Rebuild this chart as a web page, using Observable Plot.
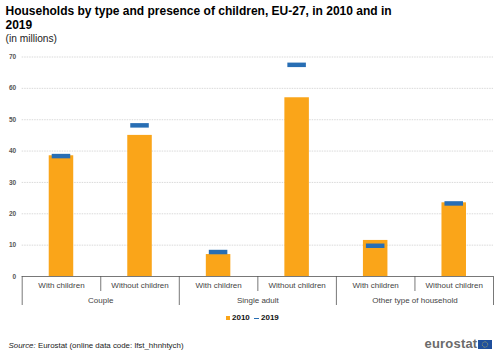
<!DOCTYPE html>
<html>
<head>
<meta charset="utf-8">
<script src="https://cdn.jsdelivr.net/npm/d3@7"></script>
<script src="https://cdn.jsdelivr.net/npm/@observablehq/plot@0.6"></script>
<style>
html,body{margin:0;padding:0;background:#fff;width:500px;height:354px;overflow:hidden;font-family:"Liberation Sans",Arial,sans-serif}
#page{position:relative;width:500px;height:354px}
#head{position:absolute;left:5.5px;top:4px;width:490px}
#title{font-size:12px;font-weight:bold;line-height:14px;color:#000}
#sub{font-size:10.2px;line-height:13px;color:#222}
#chart{position:absolute;left:0;top:45px}
#chart svg{display:block}
#legend{position:absolute;left:226px;top:313px;font-size:8px;font-weight:bold;color:#111;line-height:10px;height:10px;white-space:nowrap}
#legend i{display:inline-block;position:absolute}
#legend span{position:absolute;top:0}
#source{position:absolute;left:8.5px;top:341px;font-size:7.9px;line-height:10px;color:#222;white-space:nowrap}
#logo{position:absolute;left:424.5px;top:336px;font-size:13px;font-weight:bold;line-height:16px;color:#6b6b6b;letter-spacing:.2px}
#flag{position:absolute;left:478px;top:340px}
</style>
</head>
<body>
<div id="page">
  <div id="head">
    <div id="title">Households by type and presence of children, EU-27, in 2010 and in<br>2019</div>
    <div id="sub">(in millions)</div>
  </div>
  <div id="chart"></div>
  <div id="legend">
    <i style="left:0;top:3px;width:4px;height:4px;background:#FAA519"></i><span style="left:6px">2010</span>
    <i style="left:28px;top:4.5px;width:5px;height:1.6px;background:#286EB4"></i><span style="left:35px">2019</span>
  </div>
  <div id="source"><em>Source:</em> Eurostat (online data code: lfst_hhnhtych)</div>
  <div id="logo">eurostat</div>
  <svg id="flag" width="14" height="9" viewBox="0 0 14 9"><rect width="14" height="9" fill="#1f4f9c"/><circle cx="7" cy="4.5" r="2.7" fill="none" stroke="#e8d44a" stroke-width=".7" stroke-dasharray=".7 .7"/></svg>
</div>
<script>
const categories = ["With children", "Without children", "With children", "Without children", "With children", "Without children"];
const groups = ["Couple", "Single adult", "Other type of household"];
const values2010 = [38.5, 45, 7, 57, 11.5, 23.5];
const values2019 = [38.4, 48.2, 7.8, 67.5, 9.8, 23.3];
const yTicks = [0, 10, 20, 30, 40, 50, 60, 70];

const idx = categories.map((_, i) => i);
const barHalf = 0.156, dashHalf = 0.118;
const catEdges = d3.range(categories.length + 1);
const groupEdges = d3.range(0, categories.length + 1, 2);
const catCenters = idx.map(i => i + 0.5);
const groupCenters = groups.map((_, g) => g * 2 + 1);
const axisColor = "#555", textColor = "#444";

const plot = Plot.plot({
  width: 500, height: 261,
  marginLeft: 21.7, marginRight: 7, marginTop: 11.5, marginBottom: 30,
  style: {fontFamily: '"Liberation Sans",Arial,sans-serif', background: "transparent"},
  x: {type: "linear", domain: [0, categories.length], axis: null},
  y: {domain: [0, 70], axis: null},
  marks: [
    Plot.gridY(yTicks.filter(d => d > 0), {stroke: "#cfcfcf", strokeOpacity: 1, strokeWidth: 0.8, strokeDasharray: "1.5,1"}),
    Plot.axisY({ticks: yTicks, tickSize: 0, tickPadding: 6, fontSize: 6.5, fontWeight: "bold", fill: "#555", label: null}),
    Plot.rectY(idx, {x1: i => i + 0.5 - barHalf, x2: i => i + 0.5 + barHalf, y1: 0, y2: i => values2010[i], fill: "#FAA519"}),
    Plot.ruleY(idx, {x1: i => i + 0.5 - dashHalf, x2: i => i + 0.5 + dashHalf, y: i => values2019[i], stroke: "#286EB4", strokeWidth: 4.5}),
    Plot.ruleY([0], {stroke: axisColor, strokeWidth: 0.8}),
    Plot.axisX({ticks: catEdges.filter(d => d % 2), tickSize: 15, tickFormat: () => "", stroke: axisColor, strokeWidth: 0.8, label: null}),
    Plot.axisX({ticks: groupEdges, tickSize: 29, tickFormat: () => "", stroke: axisColor, strokeWidth: 0.8, label: null}),
    Plot.axisX({ticks: catCenters, tickSize: 0, tickPadding: 5.5, tickFormat: d => categories[Math.floor(d)], fontSize: 8, fill: textColor, label: null}),
    Plot.axisX({ticks: groupCenters, tickSize: 0, tickPadding: 20.5, tickFormat: d => groups[(d - 1) / 2], fontSize: 8, fill: textColor, label: null})
  ]
});
document.getElementById("chart").appendChild(plot);
</script>
</body>
</html>
